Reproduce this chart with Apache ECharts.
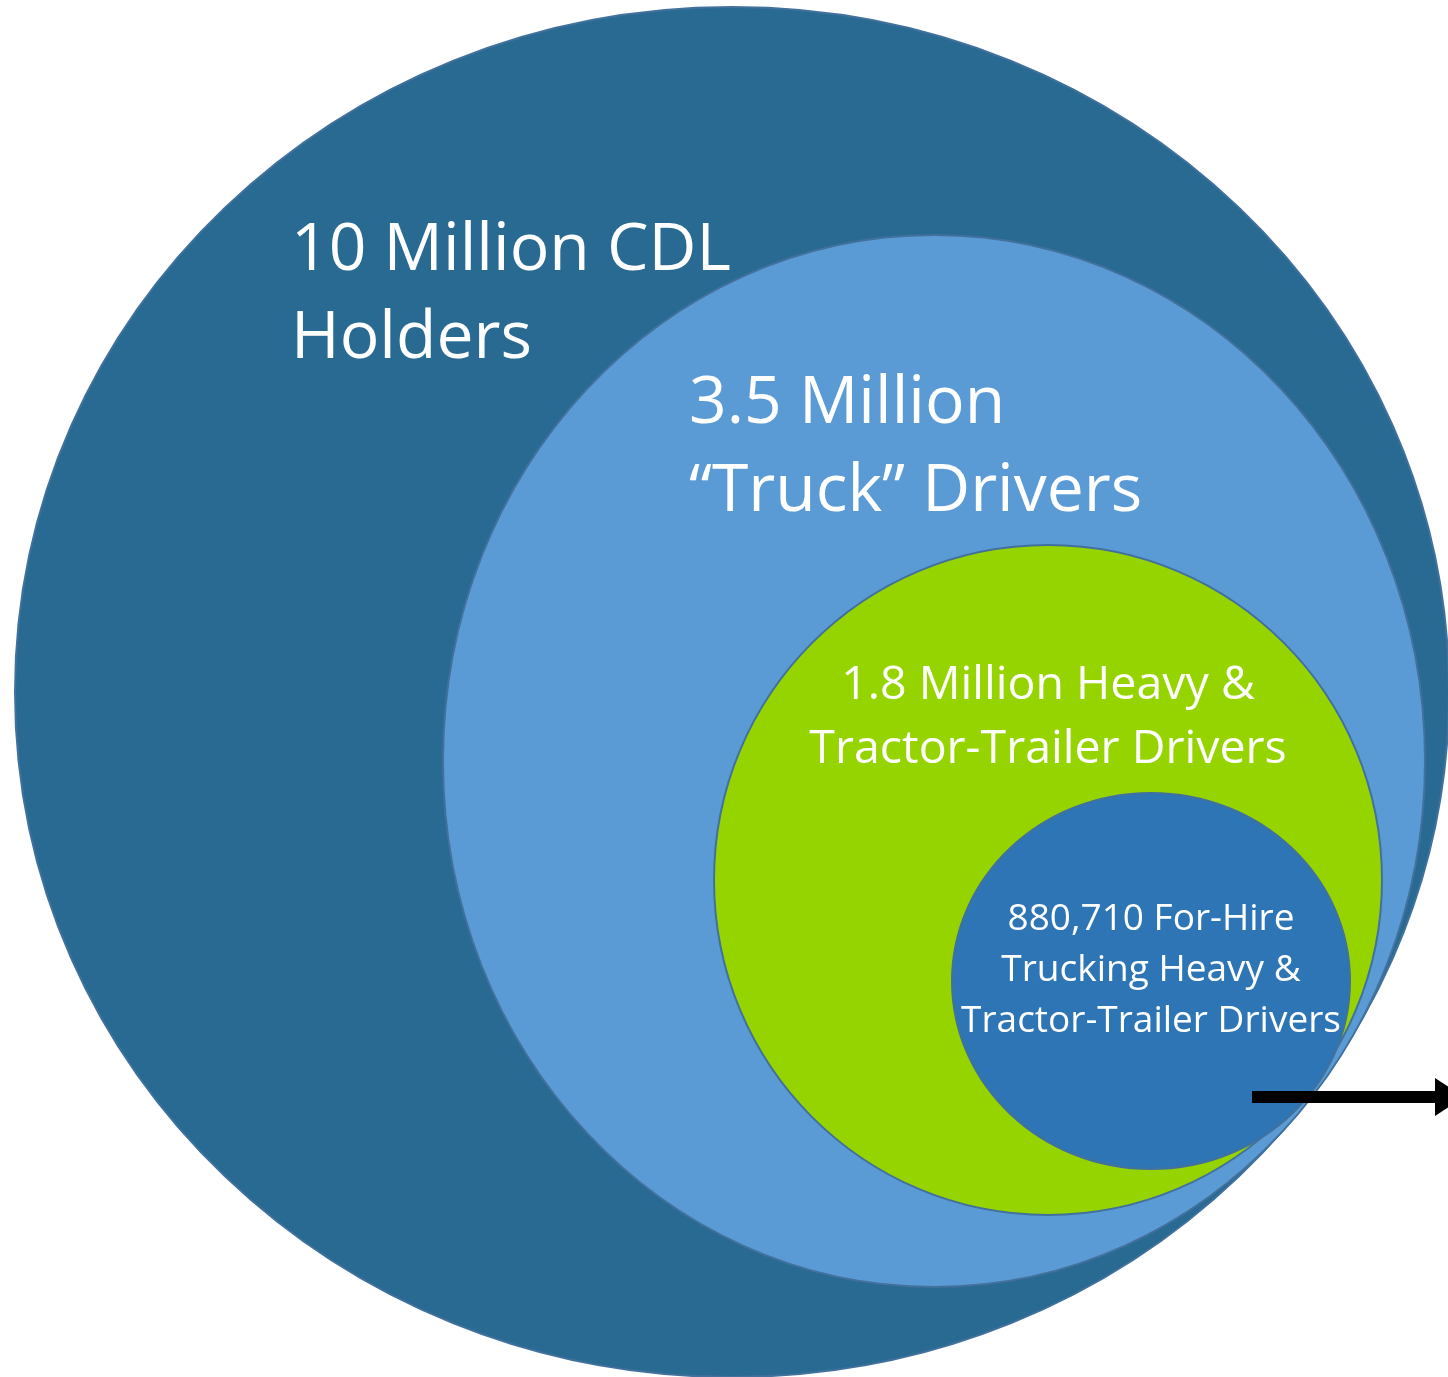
<!DOCTYPE html>
<html>
<head>
<meta charset="utf-8">
<script src="https://cdn.jsdelivr.net/npm/echarts@6/dist/echarts.min.js"></script>
<style>html,body{margin:0;padding:0;background:#fff}#c{width:1448px;height:1377px}</style>
</head>
<body>
<div id="c"></div>
<script>
// ---- data ----
const categories = ['10 Million CDL Holders', '3.5 Million “Truck” Drivers', '1.8 Million Heavy & Tractor-Trailer Drivers', '880,710 For-Hire Trucking Heavy & Tractor-Trailer Drivers'];
const drivers = [10000000, 3500000, 1800000, 880710];
const labelLines = [
  ['10 Million CDL', 'Holders'],
  ['3.5 Million', '“Truck” Drivers'],
  ['1.8 Million Heavy &', 'Tractor-Trailer Drivers'],
  ['880,710 For-Hire', 'Trucking Heavy &', 'Tractor-Trailer Drivers']
];
// ellipse geometry in axis units
const centerX = [732, 934, 1048, 1151];
const centerY = [692, 761, 880, 981];
const radiusX = [717, 491, 334, 199];
const radiusY = [685, 526, 335, 188];
// arrow (axis units)
const arrowFrom = [1252, 1097];
const arrowTo = [1448, 1097];

// ---- style / layout ----
const fills = ['#296A93', '#5B9BD5', '#96D400', '#2E75B6'];
const labelLayout = [
  {x: 291, y: 251, align: 'left', size: 66, lh: 88},
  {x: 689, y: 404, align: 'left', size: 66, lh: 88},
  {x: 1048, y: 686, align: 'center', size: 46.5, lh: 64},
  {x: 1151, y: 919, align: 'center', size: 37, lh: 51}
];

const data = categories.map((c, i) => ({
  name: c,
  value: [centerX[i], centerY[i], radiusX[i], radiusY[i], drivers[i]]
}));

const chart = echarts.init(document.getElementById('c'), null, {renderer: 'canvas'});
chart.setOption({
  animation: false,
  grid: {left: 0, right: 0, top: 0, bottom: 0},
  xAxis: {type: 'value', min: 0, max: 1448, show: false},
  yAxis: {type: 'value', min: 0, max: 1377, inverse: true, show: false},
  series: [{
    type: 'custom',
    coordinateSystem: 'cartesian2d',
    data: data,
    renderItem: function (params, api) {
      const i = params.dataIndex;
      const c = api.coord([api.value(0), api.value(1)]);
      const s = api.size([api.value(2), api.value(3)]);
      const L = labelLayout[i];
      const p = api.coord([L.x, L.y]);
      const texts = labelLines[i].map((t, k) => ({
        type: 'text',
        z2: 10,
        style: {
          text: t, x: p[0], y: p[1] + k * L.lh,
          fill: '#ffffff', font: L.size + 'px "Open Sans"',
          align: L.align, verticalAlign: 'middle'
        }
      }));
      return {
        type: 'group',
        children: [{
          type: 'ellipse',
          shape: {cx: c[0], cy: c[1], rx: s[0], ry: s[1]},
          style: {fill: fills[i], stroke: '#41719C', lineWidth: 2}
        }].concat(texts)
      };
    }
  }, {
    type: 'custom',
    coordinateSystem: 'cartesian2d',
    data: [[arrowFrom[0], arrowFrom[1], arrowTo[0], arrowTo[1]]],
    z: 5,
    renderItem: function (params, api) {
      const a = api.coord([api.value(0), api.value(1)]);
      const b = api.coord([api.value(2), api.value(3)]);
      return {
        type: 'group',
        children: [{
          type: 'line',
          shape: {x1: a[0], y1: a[1], x2: b[0] - 12, y2: b[1]},
          style: {stroke: '#000', lineWidth: 12}
        }, {
          type: 'polygon',
          shape: {points: [[b[0] - 13, b[1] - 19], [b[0] + 16, b[1]], [b[0] - 13, b[1] + 19]]},
          style: {fill: '#000'}
        }]
      };
    }
  }]
});
</script>
</body>
</html>
